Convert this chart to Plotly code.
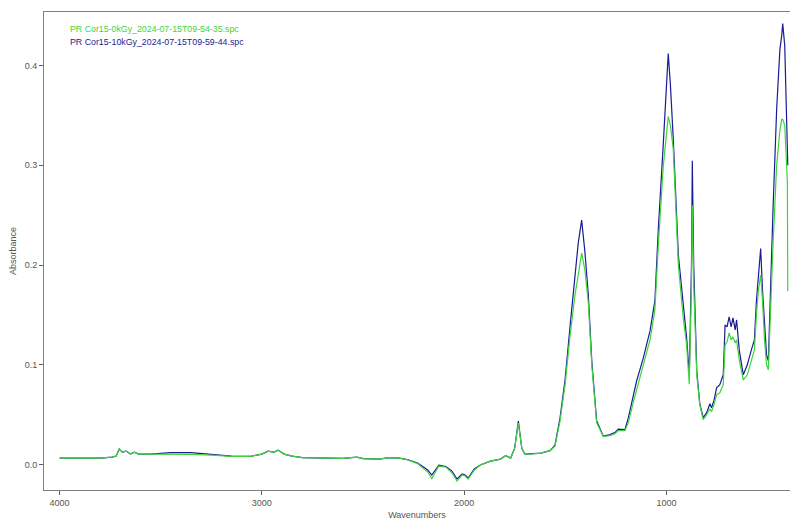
import plotly.graph_objects as go

# Wavenumber grid (cm-1) shared by both spectra
wavenumbers = [
    4000, 3900, 3850, 3800, 3740, 3720, 3705, 3690, 3670, 3650, 3630, 3610,
    3550, 3450, 3350, 3250, 3150, 3080, 3050, 3000, 2970, 2940, 2920, 2890,
    2850, 2800, 2700, 2600, 2530, 2500, 2420, 2370, 2320, 2280, 2230, 2180,
    2160, 2140, 2125, 2090, 2060, 2035, 2010, 1995, 1980, 1950, 1920, 1870,
    1820, 1795, 1770, 1750, 1732, 1715, 1700, 1660, 1620, 1575, 1551, 1526,
    1501, 1477, 1452, 1436, 1419, 1403, 1386, 1369, 1345, 1312, 1279, 1255,
    1238, 1205, 1188, 1164, 1147, 1114, 1081, 1057, 1040, 1015, 1000, 991,
    980, 966, 941, 917, 900, 887, 876, 872, 865, 850, 835, 818, 801, 785,
    777, 765, 752, 736, 719, 710, 700, 690, 680, 671, 660, 653, 640, 620,
    600, 580, 565, 555, 545, 534, 525, 515, 505, 496, 485, 473, 455, 439,
    430, 425, 415, 402, 400,
]

# Absorbance, 10 kGy sample
absorb_10kgy = [
    0.0065, 0.0065, 0.007, 0.0065, 0.0075, 0.0085, 0.0155, 0.0125, 0.0135, 0.0105, 0.0125, 0.0105,
    0.0105, 0.012, 0.012, 0.0105, 0.0085, 0.0083, 0.0085, 0.0105, 0.0135, 0.0125, 0.0145, 0.0105,
    0.0085, 0.007, 0.0065, 0.0063, 0.0075, 0.006, 0.0055, 0.007, 0.0065, 0.005, 0.0015, -0.0055,
    -0.0105, -0.0045, -0.0005, -0.002, -0.0065, -0.0145, -0.0095, -0.0105, -0.0135, -0.0045, -0.0005, 0.0035,
    0.0055, 0.009, 0.0065, 0.0165, 0.0435, 0.0165, 0.0105, 0.011, 0.0115, 0.014, 0.0195, 0.0465,
    0.085, 0.137, 0.187, 0.222, 0.245, 0.2135, 0.170, 0.104, 0.044, 0.0285, 0.030, 0.032,
    0.0355, 0.035, 0.047, 0.0707, 0.084, 0.107, 0.134, 0.164, 0.236, 0.323, 0.380, 0.412,
    0.380, 0.326, 0.210, 0.164, 0.127, 0.090, 0.200, 0.3045, 0.200, 0.094, 0.061, 0.047, 0.052, 0.061,
    0.057, 0.064, 0.077, 0.080, 0.090, 0.140, 0.138, 0.148, 0.138, 0.147, 0.135, 0.145, 0.115, 0.090,
    0.100, 0.115, 0.125, 0.164, 0.190, 0.2166, 0.175, 0.140, 0.110, 0.104, 0.180, 0.256, 0.356, 0.416,
    0.430, 0.442, 0.420, 0.306, 0.300,
]

# Absorbance, 0 kGy sample
absorb_0kgy = [
    0.0065, 0.0065, 0.007, 0.0065, 0.0075, 0.0085, 0.0155, 0.0125, 0.0135, 0.0105, 0.0125, 0.0105,
    0.0105, 0.0105, 0.0103, 0.0095, 0.0083, 0.0083, 0.0085, 0.0105, 0.0135, 0.0125, 0.0145, 0.0105,
    0.0085, 0.007, 0.0065, 0.0063, 0.0075, 0.006, 0.0055, 0.007, 0.0065, 0.0048, 0.001, -0.0075,
    -0.014, -0.0065, -0.0015, -0.0025, -0.0085, -0.0165, -0.0105, -0.0115, -0.0145, -0.0055, -0.0005, 0.0035,
    0.0055, 0.009, 0.0065, 0.0165, 0.0415, 0.0165, 0.0105, 0.0108, 0.0115, 0.014, 0.0185, 0.0435,
    0.080, 0.128, 0.170, 0.190, 0.212, 0.195, 0.162, 0.100, 0.042, 0.028, 0.029, 0.031,
    0.034, 0.034, 0.042, 0.062, 0.075, 0.098, 0.125, 0.155, 0.220, 0.300, 0.335, 0.349,
    0.340, 0.316, 0.200, 0.147, 0.120, 0.0806, 0.180, 0.260, 0.180, 0.090, 0.060, 0.045, 0.050, 0.056,
    0.053, 0.060, 0.070, 0.072, 0.080, 0.120, 0.123, 0.132, 0.125, 0.128, 0.122, 0.125, 0.105, 0.085,
    0.090, 0.105, 0.115, 0.150, 0.175, 0.190, 0.165, 0.125, 0.100, 0.095, 0.160, 0.220, 0.300, 0.335,
    0.346, 0.346, 0.340, 0.283, 0.174,
]

names = [
    "PR Cor15-0kGy_2024-07-15T09-54-35.spc",
    "PR Cor15-10kGy_2024-07-15T09-59-44.spc",
]
colors = ["#3ed43e", "#1b1b96"]

x_ticks = [4000, 3000, 2000, 1000]
y_ticks = [0.0, 0.1, 0.2, 0.3, 0.4]

fig = go.Figure()
fig.add_trace(go.Scatter(x=wavenumbers, y=absorb_10kgy, mode="lines",
                         name=names[1], line=dict(color=colors[1], width=1.2)))
fig.add_trace(go.Scatter(x=wavenumbers, y=absorb_0kgy, mode="lines",
                         name=names[0], line=dict(color=colors[0], width=1.2)))

# Coloured legend text in the upper-left corner of the plot
for i, (name, col) in enumerate(zip(names, colors)):
    fig.add_annotation(xref="paper", yref="paper", x=0.032, y=0.965 - i * 0.028,
                       xanchor="left", yanchor="middle", showarrow=False,
                       text=name, font=dict(size=8.8, color=col,
                                            family="Liberation Sans, Arial, sans-serif"))

axis_font = dict(size=9, color="#555555", family="Liberation Sans, Arial, sans-serif")

fig.update_layout(
    width=790, height=520,
    margin=dict(l=44, r=0, t=12, b=25),
    paper_bgcolor="white", plot_bgcolor="white",
    showlegend=False,
    font=axis_font,
)
fig.update_xaxes(
    range=[4077, 389], tickvals=x_ticks, ticktext=[str(v) for v in x_ticks],
    showgrid=False, zeroline=False, showline=True, linecolor="#808080", linewidth=1,
    mirror=True, ticks="outside", ticklen=4, tickcolor="#606060",
    tickfont=axis_font,
    title=dict(text="Wavenumbers", font=axis_font, standoff=6),
)
fig.update_yaxes(
    range=[-0.0255, 0.4537], tickvals=y_ticks, ticktext=[f"{v:.1f}" for v in y_ticks],
    showgrid=False, zeroline=False, showline=True, linecolor="#808080", linewidth=1,
    ticks="outside", ticklen=4, tickcolor="#606060",
    tickfont=axis_font,
    title=dict(text="Absorbance", font=axis_font, standoff=6),
)

fig.write_html("out.html")
